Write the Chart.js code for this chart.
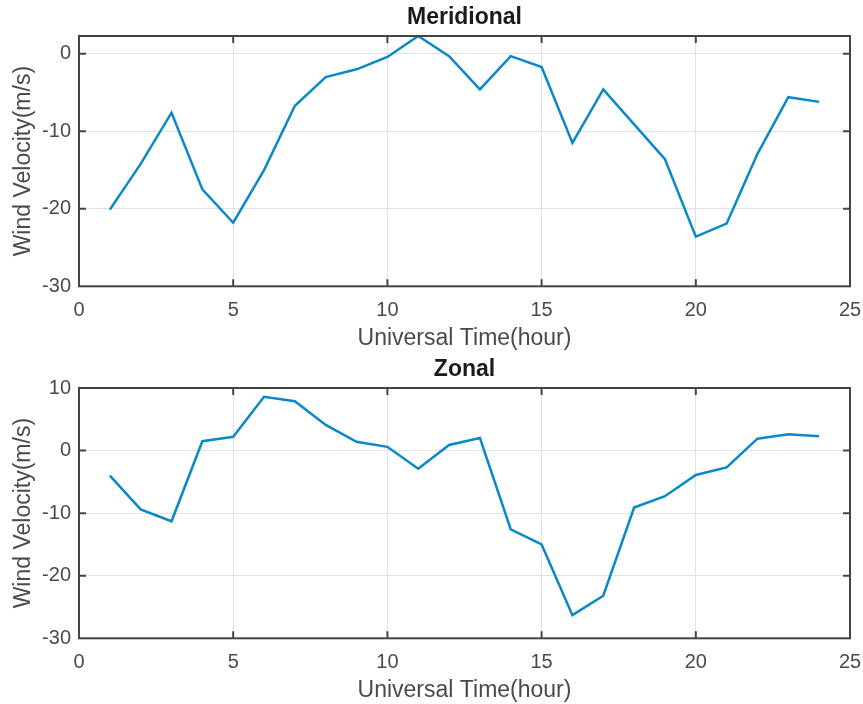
<!DOCTYPE html>
<html><head><meta charset="utf-8">
<script src="https://cdn.jsdelivr.net/npm/chart.js@4/dist/chart.umd.min.js"></script>
<style>
html,body{margin:0;padding:0;background:#fff;}
#wrap{position:relative;width:863px;height:704px;overflow:hidden;}
.box{position:absolute;left:0;width:863px;height:352px;}
canvas{display:block;}
</style></head><body>
<div id="wrap">
<div class="box" style="top:0"><canvas id="c1" width="863" height="352"></canvas></div>
<div class="box" style="top:352px"><canvas id="c2" width="863" height="352"></canvas></div>
</div>
<script>
const hours = [1,2,3,4,5,6,7,8,9,10,11,12,13,14,15,16,17,18,19,20,21,22,23,24];
const meridional = [-20.1,-14.2,-7.6,-17.5,-21.8,-15.0,-6.7,-3.0,-2.0,-0.4,2.3,-0.3,-4.6,-0.3,-1.7,-11.5,-4.6,-9.1,-13.6,-23.6,-21.9,-12.9,-5.6,-6.2];
const zonal = [-4.0,-9.4,-11.3,1.5,2.2,8.6,7.9,4.1,1.4,0.6,-2.9,0.9,2.0,-12.6,-15.0,-26.3,-23.2,-9.1,-7.3,-3.9,-2.7,1.9,2.6,2.3];
const xTicks = [0,5,10,15,20,25];
const meridionalYTicks = [-30,-20,-10,0];
const zonalYTicks = [-30,-20,-10,0,10];

const FONT = "'Liberation Sans', Arial, Helvetica, sans-serif";
const TICK_COLOR = '#4a4a4a';
const GRID_COLOR = '#e0e0e6';
const LINE_COLOR = '#0a88c8';

const boxPlugin = {
  id: 'boxTicks',
  afterDraw(chart) {
    const ctx = chart.ctx;
    const {left, top, right, bottom} = chart.chartArea;
    const xs = chart.scales.x, ys = chart.scales.y;
    const len = 7;
    ctx.save();
    ctx.strokeStyle = '#444444';
    ctx.lineWidth = 2;
    ctx.beginPath();
    xs.ticks.forEach(t => {
      const p = xs.getPixelForValue(t.value);
      if (p > left + 2 && p < right - 2) {
        ctx.moveTo(p, bottom); ctx.lineTo(p, bottom - len);
        ctx.moveTo(p, top); ctx.lineTo(p, top + len);
      }
    });
    ys.ticks.forEach(t => {
      const p = ys.getPixelForValue(t.value);
      if (p > top + 2 && p < bottom - 2) {
        ctx.moveTo(left, p); ctx.lineTo(left + len, p);
        ctx.moveTo(right, p); ctx.lineTo(right - len, p);
      }
    });
    ctx.stroke();
    ctx.strokeRect(left, top, right - left, bottom - top);
    ctx.restore();
  }
};

function makeChart(id, title, values, yTicks, yMax) {
  return new Chart(document.getElementById(id), {
    type: 'line',
    data: {
      datasets: [{
        data: hours.map((h, i) => ({x: h, y: values[i]})),
        borderColor: LINE_COLOR,
        borderWidth: 2.5,
        pointRadius: 0,
        tension: 0,
        fill: false
      }]
    },
    options: {
      responsive: false,
      animation: false,
      devicePixelRatio: 1,
      layout: {padding: {left: 0, right: 13, top: 0, bottom: 0}},
      plugins: {
        legend: {display: false},
        tooltip: {enabled: false},
        title: {
          display: true, text: title, fullSize: false,
          color: '#1a1a1a',
          font: {family: FONT, size: 23, weight: 'bold'},
          padding: {top: 4, bottom: 4.4}
        }
      },
      scales: {
        x: {
          type: 'linear', min: 0, max: 25,
          afterBuildTicks: s => { s.ticks = xTicks.map(v => ({value: v})); },
          afterFit: s => { s.height = 65.7; s.paddingLeft = 0; s.paddingRight = 0; },
          grid: {color: GRID_COLOR, lineWidth: 1, drawTicks: false},
          border: {display: false},
          ticks: {color: TICK_COLOR, font: {family: FONT, size: 20}, padding: 12.5, maxRotation: 0},
          title: {display: true, text: 'Universal Time(hour)', color: TICK_COLOR,
                  font: {family: FONT, size: 23}, padding: {top: 0, bottom: 0}}
        },
        y: {
          type: 'linear', min: -30, max: yMax,
          afterBuildTicks: s => { s.ticks = yTicks.map(v => ({value: v})); },
          afterFit: s => { s.width = 79; s.paddingTop = 0; s.paddingBottom = 0; },
          grid: {color: GRID_COLOR, lineWidth: 1, drawTicks: false},
          border: {display: false},
          ticks: {color: TICK_COLOR, font: {family: FONT, size: 20}, padding: 8},
          title: {display: true, text: 'Wind Velocity(m/s)', color: TICK_COLOR,
                  font: {family: FONT, size: 23}, padding: {top: 10, bottom: 0}}
        }
      }
    },
    plugins: [boxPlugin]
  });
}

makeChart('c1', 'Meridional', meridional, meridionalYTicks, Math.max(...meridional));
makeChart('c2', 'Zonal', zonal, zonalYTicks, 10);
</script>
</body></html>
